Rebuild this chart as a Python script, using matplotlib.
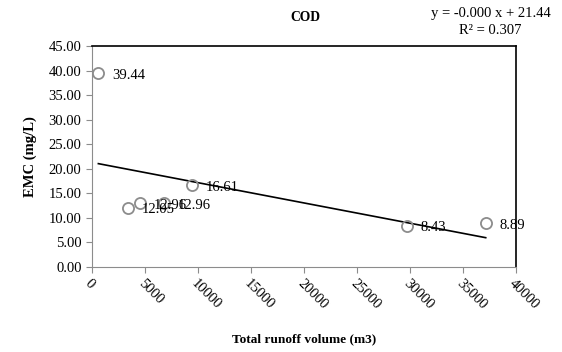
import numpy as np
import matplotlib
matplotlib.use("Agg")
import matplotlib.pyplot as plt

runoff = [600, 3400, 4500, 6800, 9400, 29700, 37150]
emc = [39.44, 12.05, 12.96, 12.96, 16.61, 8.43, 8.89]
labels = ["39.44", "12.05", "12.96", "12.96", "16.61", "8.43", "8.89"]
xticks = [0, 5000, 10000, 15000, 20000, 25000, 30000, 35000, 40000]
yticks = [0, 5, 10, 15, 20, 25, 30, 35, 40, 45]

plt.rcParams['font.family'] = ['Liberation Serif', 'DejaVu Serif']

fig = plt.figure(figsize=(5.62, 3.52), dpi=100)
ax = fig.add_axes([0.1637, 0.2415, 0.918 - 0.1637, 0.869 - 0.2415])

x = np.array(runoff, dtype=float)
y = np.array(emc)
m, b = np.polyfit(x, y, 1)
xs = np.array([x.min(), x.max()])
ax.plot(xs, m * xs + b, color='black', lw=1.2, zorder=2)

ax.plot(x, y, 'o', ms=8, mfc='none', mec='#8c8c8c', mew=1.3, zorder=3)
for xi, yi, lab in zip(x, y, labels):
    ax.annotate(lab, (xi, yi), xytext=(10, -1.5), textcoords='offset points',
                fontsize=10.5, va='center', ha='left', zorder=4)

ax.set_xlim(0, 40000)
ax.set_ylim(0, 45)
ax.set_xticks(xticks)
ax.set_xticklabels([str(t) for t in xticks], rotation=-45, ha='left', rotation_mode='anchor')
ax.set_yticks(yticks)
ax.set_yticklabels([f"{t:.2f}" for t in yticks])
ax.tick_params(axis='both', labelsize=10.5, color='#8c8c8c', length=4, direction='out')
for s in ['left', 'bottom']:
    ax.spines[s].set_color('#8c8c8c')
for s in ['top', 'right']:
    ax.spines[s].set_color('black')
    ax.spines[s].set_linewidth(1.2)

ax.set_xlabel("Total runoff volume (m3)", fontsize=9.6, fontweight='bold', labelpad=15)
ax.set_ylabel("EMC (mg/L)", fontsize=10.5, fontweight='bold', labelpad=8)
fig.text(0.543, 0.95, "COD", fontsize=9.8, fontweight='bold', ha='center', va='center')
fig.text(0.873, 0.962, "y = -0.000 x + 21.44", fontsize=10.5, ha='center', va='center')
fig.text(0.873, 0.912, "R\u00b2 = 0.307", fontsize=10.5, ha='center', va='center')

fig.savefig("out.png", dpi=100)
